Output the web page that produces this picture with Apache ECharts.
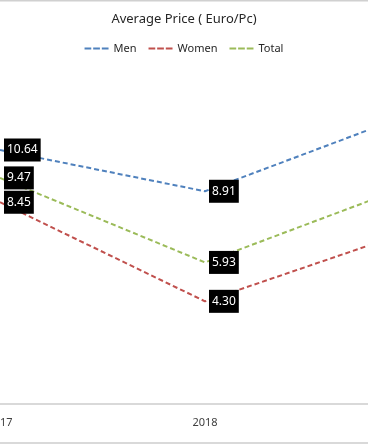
<!DOCTYPE html>
<html>
<head>
<meta charset="utf-8">
<script src="https://cdn.jsdelivr.net/npm/echarts@6/dist/echarts.min.js"></script>
<style>html,body{margin:0;padding:0;background:#fff;}#c{width:368px;height:445px;}</style>
</head>
<body>
<div id="c"></div>
<script>
var years = ['2017', '2018', '2019'];
var men = [10.64, 8.91, 12.13];
var women = [8.45, 4.30, 7.23];
var total = [9.47, 5.93, 9.15];

var FONT = '"Noto Sans", "Open Sans", sans-serif';
var chart = echarts.init(document.getElementById('c'));

function mk(name, data, color) {
  return {
    name: name, type: 'line', data: data,
    symbol: 'circle', symbolSize: 0,
    lineStyle: { color: color, width: 2, type: [5, 3] },
    itemStyle: { color: color },
    label: {
      show: true, position: 'right', distance: 4,
      formatter: function (p) { return p.value.toFixed(2); },
      backgroundColor: '#000', color: '#fff', fontFamily: FONT, fontSize: 12,
      padding: [6, 3, 5, 3]
    },
    emphasis: { disabled: true }
  };
}

chart.setOption({
  animation: false,
  title: {
    text: 'Average Price ( Euro/Pc)', left: 'center', top: 8,
    textStyle: { fontFamily: FONT, fontSize: 13, fontWeight: 'normal', color: '#262626' }
  },
  legend: {
    top: 38, left: 'center', itemWidth: 24, itemHeight: 2, itemGap: 12,
    icon: 'path://M0,0 L7,0 L7,2 L0,2 Z M9,0 L16,0 L16,2 L9,2 Z M18,0 L25,0 L25,2 L18,2 Z',
    textStyle: { fontFamily: FONT, fontSize: 11, color: '#262626' },
    data: ['Men', 'Women', 'Total']
  },
  grid: { left: 0, width: 410, top: 22, bottom: 41, containLabel: false, outerBoundsMode: 'none' },
  xAxis: {
    type: 'category', data: years, boundaryGap: false,
    axisLine: { lineStyle: { color: '#d9d9d9', width: 2 } },
    axisTick: { show: false },
    axisLabel: { fontFamily: FONT, fontSize: 11, color: '#404040', margin: 13 },
    splitLine: { show: false }
  },
  yAxis: { type: 'value', min: 0, max: 16, show: false, splitLine: { show: false } },
  graphic: [
    { type: 'line', shape: { x1: 0, y1: 0.5, x2: 368, y2: 0.5 }, style: { stroke: '#d0d0d0', lineWidth: 2 } },
    { type: 'line', shape: { x1: 0, y1: 443, x2: 368, y2: 443 }, style: { stroke: '#d9d9d9', lineWidth: 2 } }
  ],
  series: [
    mk('Men', men, '#4f81bd'),
    mk('Women', women, '#c0504d'),
    mk('Total', total, '#9bbb59')
  ]
});
</script>
</body>
</html>
